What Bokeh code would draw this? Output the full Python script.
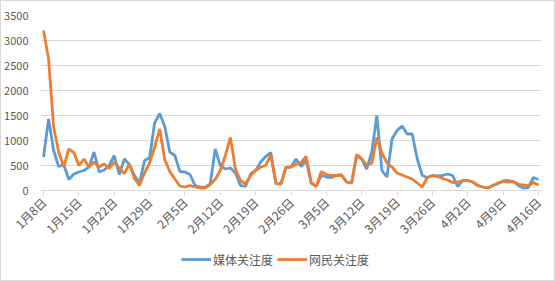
import math
from bokeh.plotting import figure
from bokeh.models import FixedTicker, Legend, LegendItem, Range1d
from bokeh.layouts import column
from bokeh.embed import file_html
from bokeh.resources import INLINE

# Daily series, 1月8日 .. 4月16日 (99 days)
media = [670, 1430, 800, 480, 520, 220, 330, 370, 400, 470,
         770, 370, 410, 500, 700, 320, 630, 520, 300, 150,
         600, 650, 1350, 1540, 1280, 770, 700, 380, 370, 320,
         100, 70, 60, 130, 830, 500, 430, 450, 350, 100,
         80, 330, 400, 570, 680, 760, 140, 130, 460, 470,
         630, 480, 600, 150, 90, 300, 270, 260, 300, 310,
         170, 150, 700, 630, 430, 770, 1500, 400, 270, 1030,
         1200, 1290, 1130, 1130, 630, 300, 260, 300, 290, 300,
         330, 300, 80, 200, 200, 170, 100, 70, 50, 100,
         140, 190, 200, 180, 100, 50, 60, 260, 220]
netizen = [3200, 2630, 1270, 770, 470, 830, 760, 500, 630, 470,
           570, 470, 530, 440, 570, 440, 340, 530, 240, 100,
           350, 550, 870, 1230, 620, 380, 230, 90, 70, 100,
           70, 50, 50, 120, 220, 400, 700, 1060, 430, 200,
           130, 300, 400, 470, 500, 720, 150, 130, 460, 470,
           530, 560, 680, 150, 80, 380, 320, 300, 300, 310,
           170, 150, 720, 640, 500, 550, 1060, 750, 550, 470,
           350, 310, 270, 230, 150, 70, 260, 300, 280, 240,
           210, 160, 170, 200, 200, 170, 100, 70, 50, 100,
           150, 180, 170, 180, 130, 110, 100, 160, 110]
tick_days = [0, 7, 14, 21, 28, 35, 42, 49, 56, 63, 70, 77, 84, 91, 98]
tick_labels = ["1月8日", "1月15日", "1月22日", "1月29日", "2月5日", "2月12日",
               "2月19日", "2月26日", "3月5日", "3月12日", "3月19日", "3月26日",
               "4月2日", "4月9日", "4月16日"]
series_names = ["媒体关注度", "网民关注度"]
colors = ["#5B9BD5", "#ED7D31"]
y_ticks = [0, 500, 1000, 1500, 2000, 2500, 3000, 3500]

days = list(range(len(media)))
series = [media, netizen]
FONT = "Noto Sans CJK SC"
GRAY = "#595959"
LINE = "#d9d9d9"

p = figure(width=553, height=244, output_backend="svg", toolbar_location=None,
           x_range=Range1d(-0.6, 98.6), y_range=Range1d(0, 3500),
           min_border_left=39, min_border_right=13, min_border_top=14,
           min_border_bottom=55)
p.outline_line_color = None
p.background_fill_color = "white"
p.border_fill_color = "white"

for vals, c in zip(series, colors):
    p.line(days, vals, line_color=c, line_width=2.8)

p.xgrid.grid_line_color = None
p.ygrid.grid_line_color = LINE
p.ygrid.ticker = FixedTicker(ticks=y_ticks)

p.yaxis.ticker = FixedTicker(ticks=y_ticks)
p.yaxis.axis_line_color = None
p.yaxis.major_tick_line_color = None
p.yaxis.minor_tick_line_color = None
p.yaxis.major_label_standoff = 6
p.yaxis.major_label_text_font = FONT
p.yaxis.major_label_text_font_size = "11px"
p.yaxis.major_label_text_color = GRAY

p.xaxis.ticker = FixedTicker(ticks=tick_days)
p.xaxis.major_label_overrides = {d: l for d, l in zip(tick_days, tick_labels)}
p.xaxis.major_label_orientation = math.pi / 4
p.xaxis.axis_line_color = LINE
p.xaxis.major_tick_line_color = LINE
p.xaxis.major_tick_in = 0
p.xaxis.major_tick_out = 5
p.xaxis.minor_tick_line_color = None
p.xaxis.major_label_standoff = 4
p.xaxis.major_label_text_font = FONT
p.xaxis.major_label_text_font_size = "12px"
p.xaxis.major_label_text_color = GRAY

# legend strip below the chart (its renderers lie outside its visible range)
lg = figure(width=553, height=35, output_backend="svg", toolbar_location=None,
            x_range=Range1d(1000, 1001), y_range=Range1d(0, 1),
            min_border=0)
lg.axis.visible = False
lg.grid.visible = False
lg.outline_line_color = None
lg.background_fill_color = "white"
lg.border_fill_color = "white"
items = []
for name, vals, c in zip(series_names, series, colors):
    rr = lg.line(days, vals, line_color=c, line_width=2.8)
    items.append(LegendItem(label=name, renderers=[rr]))
legend = Legend(items=items, orientation="horizontal", location=(141, 11),
                glyph_width=30, glyph_height=20, label_standoff=2, spacing=4,
                padding=0, margin=0, border_line_color=None,
                background_fill_alpha=0,
                label_text_font=FONT, label_text_font_size="12px",
                label_text_color=GRAY)
lg.add_layout(legend, "center")

layout = column(p, lg, spacing=0)
layout.styles = {"border": "1px solid #d9d9d9", "gap": "0px"}

open("out.html", "w").write(file_html(layout, INLINE))
